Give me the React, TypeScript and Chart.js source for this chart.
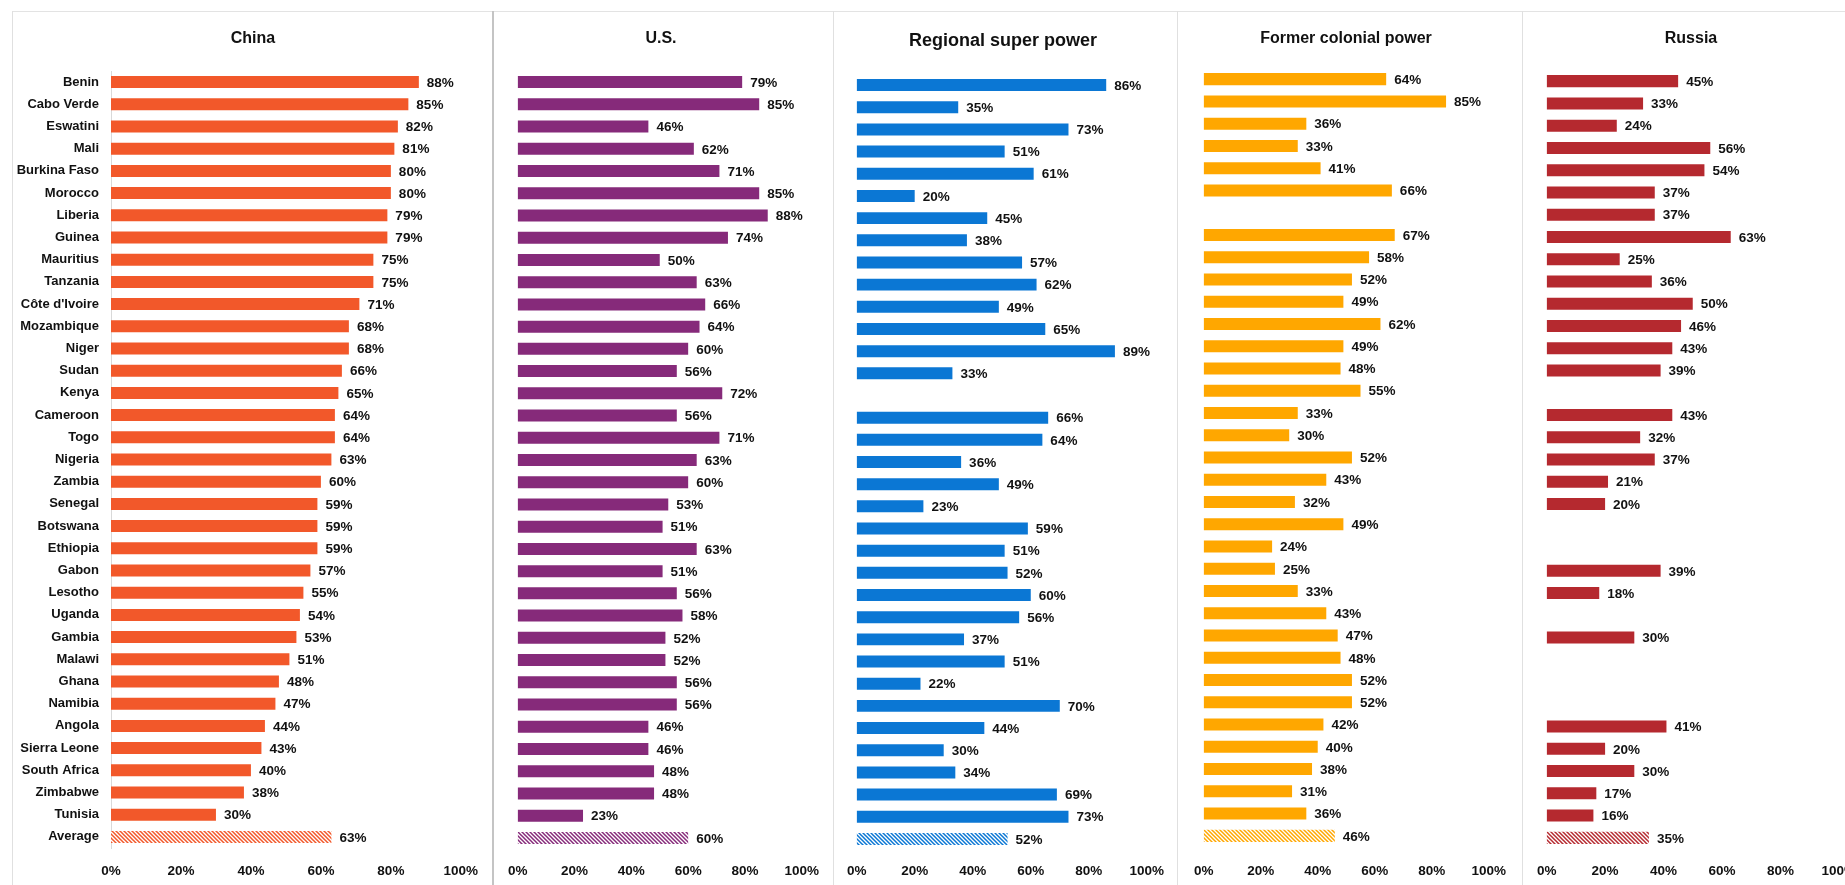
import React, { useEffect, useRef } from "react";
import { Chart, registerables } from "chart.js";

Chart.register(...registerables);

// ---------- data ----------
const countries = [
  "Benin", "Cabo Verde", "Eswatini", "Mali", "Burkina Faso", "Morocco", "Liberia", "Guinea",
  "Mauritius", "Tanzania", "Côte d'Ivoire", "Mozambique", "Niger", "Sudan", "Kenya", "Cameroon",
  "Togo", "Nigeria", "Zambia", "Senegal", "Botswana", "Ethiopia", "Gabon", "Lesotho", "Uganda",
  "Gambia", "Malawi", "Ghana", "Namibia", "Angola", "Sierra Leone", "South Africa", "Zimbabwe",
  "Tunisia", "Average",
];

const chinaValues = [88, 85, 82, 81, 80, 80, 79, 79, 75, 75, 71, 68, 68, 66, 65, 64, 64, 63, 60, 59, 59, 59, 57, 55, 54, 53, 51, 48, 47, 44, 43, 40, 38, 30, 63];
const usValues = [79, 85, 46, 62, 71, 85, 88, 74, 50, 63, 66, 64, 60, 56, 72, 56, 71, 63, 60, 53, 51, 63, 51, 56, 58, 52, 52, 56, 56, 46, 46, 48, 48, 23, 60];
const regionalValues = [86, 35, 73, 51, 61, 20, 45, 38, 57, 62, 49, 65, 89, 33, null, 66, 64, 36, 49, 23, 59, 51, 52, 60, 56, 37, 51, 22, 70, 44, 30, 34, 69, 73, 52];
const colonialValues = [64, 85, 36, 33, 41, 66, null, 67, 58, 52, 49, 62, 49, 48, 55, 33, 30, 52, 43, 32, 49, 24, 25, 33, 43, 47, 48, 52, 52, 42, 40, 38, 31, 36, 46];
const russiaValues = [45, 33, 24, 56, 54, 37, 37, 63, 25, 36, 50, 46, 43, 39, null, 43, 32, 37, 21, 20, null, null, 39, 18, null, 30, null, null, null, 41, 20, 30, 17, 16, 35];

const xTickValues = [0, 20, 40, 60, 80, 100];
const panelTitles = ["China", "U.S.", "Regional super power", "Former colonial power", "Russia"];
const panelSeries = [chinaValues, usValues, regionalValues, colonialValues, russiaValues];

// ---------- styles / layout ----------
const panelColors = ["#F2582A", "#862A7A", "#0B77D4", "#FFA700", "#B5292F"];
const FONT = '"Liberation Sans", Arial, sans-serif';
const LABEL_SIZE = 13.5;
const CAT_SIZE = 13;
const CANVAS_TOP = 12;
const CANVAS_H = 873;
const LABEL_CENTER_Y = 871;

const borderXs = [12, 493, 833, 1177, 1522];

const layouts = [
  { canvasLeft: 13, width: 480, chartLeft: 111, chartRight: 463, chartTop: 71, chartBottom: 848, titleY: 38.5, titleSize: 16, showY: true },
  { canvasLeft: 494, width: 339, chartLeft: 517, chartRight: 805, chartTop: 71, chartBottom: 849, titleY: 38.5, titleSize: 16, showY: false },
  { canvasLeft: 834, width: 343, chartLeft: 855, chartRight: 1151, chartTop: 74, chartBottom: 850, titleY: 41, titleSize: 18, showY: false },
  { canvasLeft: 1178, width: 344, chartLeft: 1199, chartRight: 1493, chartTop: 68, chartBottom: 847, titleY: 38.5, titleSize: 16, showY: false },
  { canvasLeft: 1523, width: 347, chartLeft: 1543, chartRight: 1839, chartTop: 70, chartBottom: 849, titleY: 38.5, titleSize: 16, showY: false },
];

function makeHatch(color: string): CanvasPattern | string {
  const c = document.createElement("canvas");
  const s = 4;
  c.width = s;
  c.height = s;
  const g = c.getContext("2d");
  if (!g) return color;
  g.fillStyle = "#ffffff";
  g.fillRect(0, 0, s, s);
  g.strokeStyle = color;
  g.lineWidth = 1.5;
  g.beginPath();
  g.moveTo(-1, -1);
  g.lineTo(s + 1, s + 1);
  g.moveTo(-1, s - 1);
  g.lineTo(1, s + 1);
  g.moveTo(s - 1, -1);
  g.lineTo(s + 1, 1);
  g.stroke();
  const p = g.createPattern(c, "repeat");
  return p || color;
}

const valueLabelPlugin = {
  id: "valueLabels",
  afterDatasetsDraw(chart: any) {
    const ctx = chart.ctx;
    ctx.save();
    ctx.font = `700 ${LABEL_SIZE}px ${FONT}`;
    ctx.fillStyle = "#111111";
    ctx.textAlign = "left";
    ctx.textBaseline = "middle";
    chart.data.datasets.forEach((ds: any, di: number) => {
      const meta = chart.getDatasetMeta(di);
      meta.data.forEach((el: any, i: number) => {
        const v = ds.data[i];
        if (v === null || v === undefined) return;
        ctx.fillText(`${v}%`, el.x + 8, el.y + 1);
      });
    });
    ctx.restore();
  },
};

function Panel({ index }: { index: number }) {
  const ref = useRef<HTMLCanvasElement | null>(null);
  const L = layouts[index];

  useEffect(() => {
    if (!ref.current) return;
    const color = panelColors[index];
    const values = panelSeries[index];
    const hatch = makeHatch(color);
    const bg = values.map((_, i) => (i === values.length - 1 ? hatch : color));

    const plotLeft = L.chartLeft - L.canvasLeft;
    const plotRight = L.chartRight - L.canvasLeft;
    const plotTop = L.chartTop - CANVAS_TOP;
    const plotBottom = L.chartBottom - CANVAS_TOP;
    const lh = L.titleSize * 1.2;
    const titleMid = L.titleY - CANVAS_TOP;
    const padTop = titleMid - lh / 2;
    const titleBottomPad = plotTop - padTop - lh;
    const xAxisH = CANVAS_H - plotBottom;
    const tickPad = LABEL_CENTER_Y - CANVAS_TOP - plotBottom - (LABEL_SIZE * 1.2) / 2;

    const padLeft = L.showY ? 0 : plotLeft;
    const yWidth = plotLeft - padLeft;
    // for the panel with category labels, a blank right-hand spacer keeps the title centred on the panel
    const spacerW = L.showY ? L.width - plotRight : 0;
    const padRight = L.showY ? 0 : L.width - plotRight;

    const scales: any = {
      x: {
        type: "linear",
        position: "bottom",
        min: 0,
        max: 100,
        grid: { display: false, drawTicks: false },
        border: { display: false },
        afterBuildTicks: (s: any) => {
          s.ticks = xTickValues.map((v) => ({ value: v }));
        },
        afterFit: (s: any) => {
          s.height = xAxisH;
        },
        ticks: {
          autoSkip: false,
          maxRotation: 0,
          padding: tickPad,
          color: "#111111",
          font: { family: FONT, size: LABEL_SIZE, weight: "bold", lineHeight: 1.2 },
          callback: (v: any) => `${v}%`,
        },
      },
      y: {
        type: "category",
        display: L.showY,
        grid: { display: false, drawTicks: false },
        border: { display: true, color: "#d9d9d9", width: 1 },
        afterFit: (s: any) => {
          s.width = yWidth;
        },
        ticks: {
          autoSkip: false,
          padding: 12,
          color: "#111111",
          font: { family: FONT, size: CAT_SIZE, weight: "bold", lineHeight: 1.2 },
        },
      },
    };
    if (L.showY) {
      scales.ySpacer = {
        type: "category",
        position: "right",
        display: true,
        grid: { display: false, drawTicks: false },
        border: { display: false },
        ticks: { display: false },
        afterFit: (s: any) => {
          s.width = spacerW;
        },
      };
    }

    const chart = new Chart(ref.current, {
      type: "bar",
      data: {
        labels: countries,
        datasets: [
          {
            data: values as any,
            backgroundColor: bg as any,
            borderWidth: 0,
            categoryPercentage: 1,
            barPercentage: 0.54,
            yAxisID: "y",
          },
        ],
      },
      options: {
        indexAxis: "y",
        responsive: false,
        animation: false,
        events: [],
        layout: { padding: { left: padLeft, right: padRight, top: padTop, bottom: 0 } },
        plugins: {
          legend: { display: false },
          tooltip: { enabled: false },
          title: {
            display: true,
            text: panelTitles[index],
            color: "#111111",
            font: { family: FONT, size: L.titleSize, weight: "bold", lineHeight: 1.2 },
            padding: { top: 0, bottom: titleBottomPad },
          },
        },
        scales,
      } as any,
      plugins: [valueLabelPlugin],
    });
    return () => chart.destroy();
  }, [index]);

  return (
    <canvas
      ref={ref}
      width={L.width}
      height={CANVAS_H}
      style={{ position: "absolute", left: L.canvasLeft, top: CANVAS_TOP, width: L.width, height: CANVAS_H }}
    />
  );
}

export default function App() {
  return (
    <div
      style={{
        position: "fixed",
        left: 0,
        top: 0,
        width: 1845,
        height: 885,
        overflow: "hidden",
        background: "#ffffff",
      }}
    >
      <div style={{ position: "absolute", left: borderXs[0], top: 11, width: 1845, height: 1, background: "#e3e3e3" }} />
      {borderXs.map((x, i) => (
        <div
          key={i}
          style={{
            position: "absolute",
            left: i === 1 ? x - 1 : x,
            top: 11,
            width: i === 1 ? 2 : 1,
            height: 900,
            background: i === 1 ? "#c4c4c4" : "#e0e0e0",
          }}
        />
      ))}
      {panelTitles.map((_, i) => (
        <Panel key={i} index={i} />
      ))}
    </div>
  );
}
